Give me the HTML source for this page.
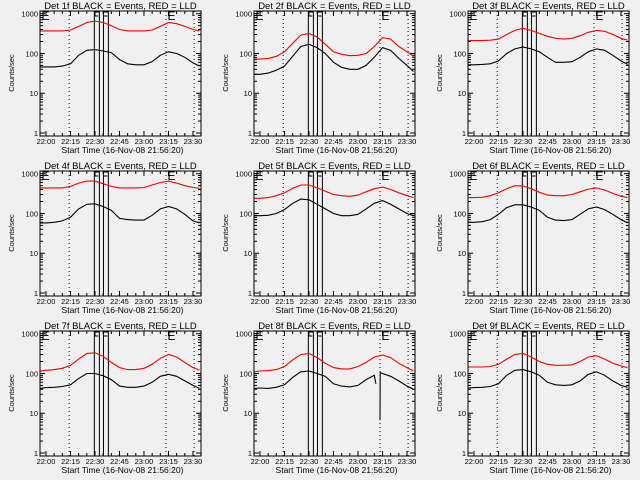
<!DOCTYPE html>
<html><head><meta charset="utf-8"><style>
html,body{margin:0;padding:0;background:#f0f0f0;}
svg{display:block;font-family:"Liberation Sans",sans-serif;}
</style></head><body>
<svg id="fig" width="640" height="480" viewBox="0 0 640 480" xmlns="http://www.w3.org/2000/svg">
<rect x="0" y="0" width="640" height="480" fill="#f0f0f0"/>
</svg>
<script>
// Time samples in minutes after 22:00
const times = [-3.7, 0, 5, 10, 15, 20, 25, 30, 35, 40, 45, 50, 55, 60, 65, 70, 75, 80, 85, 90, 94];
const detNames = ["1f","2f","3f","4f","5f","6f","7f","8f","9f"];
const redLLD = [
 [370,370,370,370,390,480,600,650,600,500,400,370,370,370,390,480,600,560,480,400,370],
 [72,72,75,85,110,180,290,320,260,170,110,95,88,90,100,150,250,230,150,110,85],
 [210,210,210,215,230,300,380,430,380,320,270,240,230,240,280,340,380,360,300,240,215],
 [440,440,440,440,480,580,650,650,560,480,440,440,440,450,520,600,650,580,500,450,430],
 [240,240,250,280,330,430,520,520,440,360,300,280,270,290,350,420,460,400,330,280,250],
 [250,250,255,280,330,420,500,490,420,340,290,280,280,300,350,410,440,390,320,270,250],
 [115,120,125,135,160,230,320,330,270,190,140,125,125,135,170,240,300,260,190,140,120],
 [110,115,118,125,150,220,300,320,250,180,140,130,130,150,190,260,290,250,180,140,115],
 [145,145,145,150,170,230,300,320,260,200,170,160,160,165,200,260,280,230,180,155,140]
];
const blackEvents = [
 [46,46,46,48,55,90,120,125,115,105,70,55,52,52,62,90,110,100,80,58,48],
 [30,30,32,38,48,85,150,170,140,100,60,45,40,40,50,80,140,120,75,50,35],
 [52,52,53,55,65,100,130,145,130,110,80,60,60,62,80,110,130,120,90,65,53],
 [58,58,60,65,80,130,170,175,150,120,75,70,68,68,90,130,150,130,95,65,58],
 [88,88,90,100,125,180,230,220,170,130,100,88,88,95,130,180,210,170,130,100,88],
 [60,60,62,70,95,140,165,165,145,120,80,68,66,70,95,130,145,125,95,70,58],
 [42,44,45,47,52,75,100,100,88,70,48,45,45,48,60,85,95,85,65,50,42],
 [42,43,42,45,52,80,110,115,100,85,55,48,46,50,70,90,100,85,65,48,40],
 [43,44,45,47,55,90,120,125,110,90,60,52,50,52,65,95,110,90,65,50,45]
];
// Detector 8 data dropout (inserted between samples)
const det8GlitchTimes = [71, 71, 73.5, 73.6];
const det8GlitchValues = [55, null, 7, 105];
const yTickValues = [1, 10, 100, 1000];
const yTickLabels = ["1","10","100","1000"];
const xTickMinutes = [0, 15, 30, 45, 60, 75, 90];
const xTickLabels = ["22:00","22:15","22:30","22:45","23:00","23:15","23:30"];
const dottedMinutes = [14.2, 73.5, 90.7];
const flagMinutes = [29.6, 32.7, 35.2, 38.2];

const NS = "http://www.w3.org/2000/svg";
const svg = document.getElementById("fig");
const colX = [40, 254, 468];
const W = 161, T0 = -3.67, PPM = 1.633;
function mk(tag, attrs, parent) {
  const e = document.createElementNS(NS, tag);
  for (const k in attrs) e.setAttribute(k, attrs[k]);
  parent.appendChild(e);
  return e;
}
for (let p = 0; p < 9; p++) {
  const c = p % 3, r = Math.floor(p / 3);
  const bx = colX[c], oy = 160 * r;
  const top = 11 + oy, bot = 136 + oy;
  const xs = m => bx + (m - T0) * PPM;
  const ys = v => (133 + oy) - Math.log10(v) * 39.77;
  const g = mk("g", {}, svg);
  
  
  const ti = mk("text", {x: bx + W / 2, y: 9 + oy, "font-size": "9.5", "text-anchor": "middle", fill: "#000"}, g);
  ti.textContent = "Det " + detNames[p] + " BLACK = Events, RED = LLD";
  
  
  const yt = mk("text", {x: 0, y: 0, "font-size": "7.5", "text-anchor": "middle", transform: "translate(" + (bx - 26) + "," + (73 + oy) + ") rotate(-90)"}, g);
  yt.textContent = "Counts/sec";
  
  
  const xt = mk("text", {x: bx + W / 2 + 2, y: 153 + oy, "font-size": "8.5", "text-anchor": "middle"}, g);
  xt.textContent = "Start Time (16-Nov-08 21:56:20)";
  
  
  for (let d = 0; d < 4; d++) {
    const y = ys(yTickValues[d]);
    const tl = mk("text", {x: bx - 2, y: y + 3, "font-size": "7.5", "text-anchor": "end"}, g);
    tl.textContent = yTickLabels[d];
    
    
    mk("line", {x1: bx, x2: bx + 5, y1: y, y2: y, stroke: "#000"}, g);
    mk("line", {x1: bx + W, x2: bx + W - 5, y1: y, y2: y, stroke: "#000"}, g);
    if (d < 3) for (let m = 2; m < 10; m++) {
      const yy = ys(yTickValues[d] * m);
      mk("line", {x1: bx, x2: bx + 3, y1: yy, y2: yy, stroke: "#000"}, g);
      mk("line", {x1: bx + W, x2: bx + W - 3, y1: yy, y2: yy, stroke: "#000"}, g);
    }
  }
  for (let m = 0; m <= 95; m += 5) {
    const x = xs(m);
    const major = m % 15 === 0;
    const len = major ? 5 : 3;
    mk("line", {x1: x, x2: x, y1: bot, y2: bot - len, stroke: "#000"}, g);
    mk("line", {x1: x, x2: x, y1: top, y2: top + len, stroke: "#000"}, g);
  }
  for (let i = 0; i < xTickMinutes.length; i++) {
    const tl = mk("text", {x: xs(xTickMinutes[i]), y: 144 + oy, "font-size": "7.5", "text-anchor": "middle"}, g);
    tl.textContent = xTickLabels[i];
    
    
  }
  for (const m of dottedMinutes) {
    mk("line", {x1: xs(m), x2: xs(m), y1: top, y2: bot, stroke: "#000", "stroke-dasharray": "1,3"}, g);
  }
  for (let i = 0; i < flagMinutes.length; i++) {
    const fl = mk("line", {x1: xs(flagMinutes[i]), x2: xs(flagMinutes[i]), y1: top, y2: bot, stroke: "#000"}, g);
    
    
  }
  for (const i of [0, 2]) {
    mk("line", {x1: xs(flagMinutes[i]), x2: xs(flagMinutes[i + 1]), y1: top + 1, y2: top + 1, stroke: "#000"}, g);
    mk("line", {x1: xs(flagMinutes[i]), x2: xs(flagMinutes[i]) + 4, y1: top + 5, y2: top + 5, stroke: "#000"}, g);
  }
  for (const ex of [bx + 1.5, xs(dottedMinutes[1]) + 1.5]) {
    const e = mk("text", {x: ex, y: top + 9, "font-size": "12", fill: "#000"}, g);
    e.textContent = "E";
    
    
  }
  function pathFrom(ts, vs) {
    let d = "", pen = false;
    for (let i = 0; i < ts.length; i++) {
      if (vs[i] == null) { pen = false; continue; }
      d += (pen ? "L" : "M") + xs(ts[i]).toFixed(1) + "," + ys(vs[i]).toFixed(1);
      pen = true;
    }
    return d;
  }
  const rp = mk("path", {d: pathFrom(times, redLLD[p]), fill: "none", stroke: "#ff0000", "stroke-width": "1.1"}, g);
  
  
  let bt = times.slice(), bv = blackEvents[p].slice();
  if (p === 7) {
    const idx = bt.findIndex(t => t > det8GlitchTimes[0]);
    bt.splice(idx, 0, ...det8GlitchTimes);
    bv.splice(idx, 0, ...det8GlitchValues);
  }
  const bp = mk("path", {d: pathFrom(bt, bv), fill: "none", stroke: "#000", "stroke-width": "1.1"}, g);
  
  
  const fr = mk("rect", {x: bx, y: top, width: W, height: bot - top, fill: "none", stroke: "#000"}, g);
  
  
}
</script>
</body></html>
